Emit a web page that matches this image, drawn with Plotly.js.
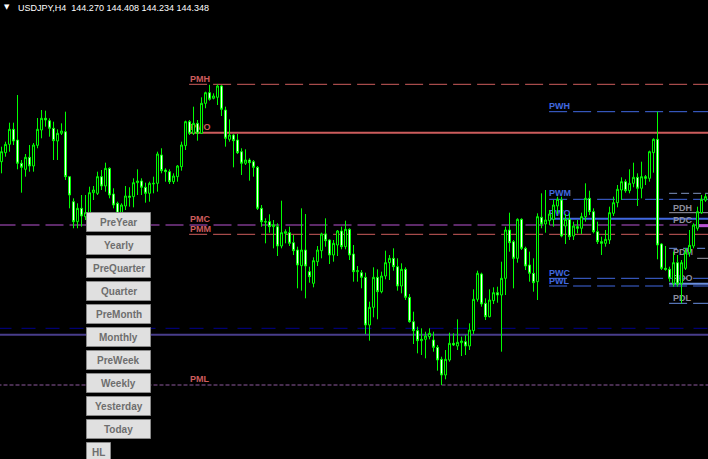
<!DOCTYPE html>
<html>
<head>
<meta charset="utf-8">
<script src="https://cdn.plot.ly/plotly-3.0.1.min.js"></script>
<style>html,body{margin:0;padding:0;background:#000;}#chart{width:708px;height:459px;}</style>
</head>
<body>
<div id="chart"></div>
<script>
// ---- data: USDJPY H4 candles ----
const symbol = 'USDJPY,H4';
const openP = [145.118,145.316,145.500,145.830,145.595,145.083,144.950,145.214,145.023,145.478,
145.815,146.072,146.020,145.852,145.573,145.742,145.778,144.788,144.238,143.798,
144.092,143.908,143.982,144.436,144.422,144.788,144.583,144.972,144.407,144.202,
143.982,144.143,144.363,144.348,144.656,144.693,144.555,144.422,144.627,144.642,
145.265,144.935,144.898,144.678,144.788,145.008,145.470,145.998,145.742,145.962,
145.742,146.402,146.636,146.512,146.534,146.783,146.255,145.610,145.705,145.595,
145.338,145.083,145.155,145.118,144.994,144.092,143.798,143.798,143.688,143.688,
143.263,143.542,143.556,143.336,143.175,142.830,143.175,142.698,142.442,142.918,
143.160,143.527,143.395,143.065,143.285,143.593,143.248,143.630,143.087,142.698,
142.676,142.574,141.525,141.914,142.574,142.258,142.603,142.896,142.992,142.808,
142.383,142.750,142.134,141.598,141.400,141.180,141.210,141.268,141.195,141.034,
140.770,140.425,140.755,141.122,141.063,141.136,141.158,141.063,141.400,142.090,
142.647,142.002,141.708,142.060,142.236,142.185,142.552,143.615,143.358,142.992,
143.850,143.212,142.845,142.662,142.478,143.894,143.747,143.820,143.850,144.143,
144.275,143.703,143.850,143.483,143.688,143.653,143.908,144.312,144.018,143.578,
143.358,143.322,143.395,143.982,144.216,144.495,144.678,144.480,144.642,144.774,
144.533,144.788,144.752,145.316,145.610,143.307,142.772,142.750,142.442,142.896,
142.442,142.772,143.116,143.263,143.653,143.996,144.270];
const highP = [145.448,145.558,145.976,145.976,146.585,145.155,145.287,145.485,145.529,146.079,
146.255,146.240,146.072,145.998,145.830,145.962,146.218,144.788,144.312,144.202,
144.385,144.385,144.568,144.583,144.898,144.935,145.096,144.994,144.533,144.238,
144.202,144.583,144.555,144.752,144.950,144.752,144.656,144.678,144.788,145.338,
145.413,144.972,144.950,144.862,145.045,145.558,146.020,146.035,146.328,146.035,
146.534,146.658,146.810,146.622,146.820,146.805,146.328,146.050,145.727,145.727,
145.413,145.390,145.192,145.155,145.023,144.165,143.872,143.960,143.835,143.762,
144.260,143.630,143.688,143.505,143.248,144.092,143.967,142.808,143.014,143.263,
143.556,143.872,143.410,143.395,143.615,143.688,143.820,143.653,143.285,142.823,
142.735,142.676,142.038,142.794,142.750,142.698,143.160,143.065,143.212,142.992,
142.882,142.794,142.207,141.818,141.488,141.452,141.378,141.452,141.378,141.085,
140.828,140.975,141.356,141.342,141.650,141.268,141.305,141.562,142.310,142.720,
142.676,142.112,142.310,142.354,142.368,142.918,143.688,143.996,143.395,143.872,
143.872,143.248,143.138,142.992,143.982,144.422,144.495,144.055,144.275,144.348,
144.348,143.967,143.982,143.798,143.835,143.996,144.642,144.480,144.092,143.798,
143.468,143.615,144.128,144.348,144.605,144.774,144.730,144.950,145.096,144.862,
145.118,144.825,145.360,145.632,146.218,143.322,143.263,142.808,143.138,143.065,
142.955,143.212,143.615,143.762,144.128,144.385,144.408];
const lowP = [144.862,145.228,145.338,145.485,144.950,144.436,144.788,144.898,144.898,145.413,
145.632,145.888,145.668,145.155,145.155,145.705,144.715,144.092,143.653,143.653,
143.688,143.835,143.945,144.275,144.385,144.495,144.458,144.312,144.092,143.908,
143.798,144.055,144.128,144.114,144.385,144.385,144.216,144.238,144.422,144.458,
144.862,144.678,144.627,144.627,144.678,144.920,145.375,145.705,145.705,145.580,
145.727,146.293,146.460,146.490,146.365,146.123,145.448,145.558,144.994,145.287,
144.825,145.045,144.700,144.788,144.055,143.688,143.322,143.556,143.212,143.043,
143.212,143.322,143.263,143.065,142.332,142.280,142.112,142.456,142.354,142.823,
142.992,143.248,142.867,142.918,143.043,143.190,143.190,142.955,142.478,142.478,
142.332,141.327,141.180,141.694,141.650,142.222,142.530,142.515,142.720,142.280,
142.222,142.075,141.576,141.107,140.902,140.865,140.792,141.210,140.938,140.520,
140.205,140.330,140.718,141.063,140.975,140.843,140.865,140.975,141.327,142.038,
141.928,141.635,141.694,141.987,142.016,140.938,142.185,143.138,142.332,142.896,
143.175,142.735,142.478,142.258,142.075,143.653,143.556,143.725,143.688,143.967,
143.454,143.307,143.395,143.395,143.542,143.527,143.798,143.945,143.542,143.307,
143.065,143.248,143.307,143.923,144.114,144.275,144.436,144.422,144.555,144.143,
144.312,144.605,144.678,144.876,142.970,142.735,142.720,142.478,142.368,142.368,
142.002,142.735,143.028,143.212,143.600,143.967,144.234];
const closeP = [145.338,145.500,145.830,145.573,145.083,144.994,145.214,145.023,145.485,145.830,
146.072,146.035,145.852,145.580,145.742,145.793,144.788,144.385,143.798,144.092,
143.923,143.996,144.436,144.495,144.788,144.583,144.972,144.385,144.165,143.982,
144.165,144.363,144.334,144.656,144.693,144.555,144.422,144.642,144.642,145.287,
144.920,144.898,144.678,144.803,145.023,145.485,145.998,145.742,145.962,145.742,
146.402,146.636,146.490,146.563,146.783,146.270,145.632,145.705,145.580,145.316,
145.083,145.155,145.096,144.994,144.092,143.798,143.791,143.688,143.725,143.263,
143.556,143.578,143.322,143.160,142.845,143.175,142.823,142.588,142.940,143.175,
143.527,143.380,143.065,143.322,143.593,143.248,143.630,143.065,142.698,142.720,
142.574,141.525,141.914,142.574,142.258,142.603,142.896,142.992,142.808,142.383,
142.750,142.134,141.598,141.400,141.180,141.210,141.283,141.342,141.034,140.755,
140.425,140.770,141.122,141.085,141.144,141.173,141.063,141.415,142.090,142.662,
141.987,141.708,142.075,142.236,142.185,142.552,143.615,143.336,142.992,143.850,
143.212,142.823,142.662,142.456,143.908,143.747,143.835,143.967,144.165,144.290,
143.483,143.850,143.468,143.703,143.653,143.908,144.312,144.018,143.578,143.358,
143.322,143.410,143.996,144.216,144.510,144.678,144.480,144.642,144.774,144.533,
144.788,144.752,145.338,145.610,143.285,142.772,142.750,142.552,142.896,142.427,
142.896,143.116,143.278,143.725,144.018,144.290,144.348];

// ---- horizontal level lines (price, first bar) ----
const levelName  = ['PMH','PMO','PurpleA','PMM','PurpleB','NavyDash','SlateSolid','PWH','PWM','PWO','PWC','PWL','DayDashA','PDH','PDC','DayDashB','PDM','PDO','PDL'];
const levelPrice = [146.820,145.756,143.725,143.520,140.205,141.452,141.312,146.218,144.290,143.864,142.552,142.383,144.422,143.996,143.710,143.212,142.992,142.434,142.002];
const levelStartBar = [46.9,46.9,-1,46.9,-1,-1,-1,136.9,136.9,136.9,136.9,136.9,166.9,166.9,173.9,166.9,173.9,166.9,166.9];

// ---- level labels ----
const labelText  = ['PMH','PMO','PMC','PMM','PML','PWH','PWM','PWO','PWC','PWL','PDH','PDC','PDM','PDO','PDL'];
const labelPrice = [146.970,145.903,143.879,143.659,140.359,146.376,144.451,144.011,142.691,142.515,144.132,143.857,143.153,142.581,142.141];
const labelBar   = [47.1,47.1,47.1,47.1,47.1,136.9,136.9,136.9,136.9,136.9,167.9,167.9,167.9,167.9,167.9];

// ---- buttons ----
const buttonLabels = ['PreYear','Yearly','PreQuarter','Quarter','PreMonth','Monthly','PreWeek','Weekly','Yesterday','Today','HL'];

// ---- styles ----
const RED = '#CD5C5C', BLUE = '#4169E1', PURPLE = '#BA55D3', GRAYLBL = '#8E8E9C', LBLUE = '#6A8FE0';
const levelStyle = {
  PMH:{c:RED,w:1,d:'18px,6px'}, PMO:{c:RED,w:2,d:'solid'}, PurpleA:{c:PURPLE,w:1,d:'18px,6px'},
  PMM:{c:RED,w:1,d:'18px,6px'}, PurpleB:{c:'#8E5A9E',w:1,d:'4px,2px'}, NavyDash:{c:'#00008C',w:1,d:'14px,10px'},
  SlateSolid:{c:'#483D8B',w:2,d:'solid'}, PWH:{c:BLUE,w:1,d:'18px,6px'}, PWM:{c:BLUE,w:1,d:'18px,6px'},
  PWO:{c:BLUE,w:2,d:'solid'}, PWC:{c:BLUE,w:1,d:'18px,6px'}, PWL:{c:BLUE,w:1,d:'18px,6px'},
  DayDashA:{c:'#7F93C0',w:1,d:'8px,4px'}, PDH:{c:'#9A9AA8',w:1,d:'solid'}, PDC:{c:PURPLE,w:3,d:'solid'},
  DayDashB:{c:LBLUE,w:1,d:'8px,6px'}, PDM:{c:'#9A9AA8',w:1,d:'solid'}, PDO:{c:LBLUE,w:2,d:'solid'},
  PDL:{c:LBLUE,w:1,d:'18px,6px'}
};
function labelColor(t){ return t.startsWith('PM') ? RED : (t.startsWith('PW') ? BLUE : GRAYLBL); }

const idx = openP.map((_, i) => i);
const W = 708, H = 459;

const shapes = [];
levelName.forEach((n, i) => {
  const s = levelStyle[n];
  shapes.push({type:'line', xref:'x', yref:'y', layer:'below',
    x0: levelStartBar[i], x1: 180, y0: levelPrice[i], y1: levelPrice[i],
    line:{color:s.c, width:s.w, dash:s.d}});
});
labelText.forEach((t, i) => {
  shapes.push({type:'line', xref:'x', yref:'y', layer:'below',
    x0: labelBar[i], x1: labelBar[i] + 0.5, y0: labelPrice[i], y1: labelPrice[i],
    line:{color:'rgba(0,0,0,0)', width:1},
    label:{text:'<b>' + t + '</b>', textposition:'start', xanchor:'left', yanchor:'middle', padding:0,
      font:{family:'Liberation Sans, Arial, sans-serif', size:9, color:labelColor(t), weight:'bold'}}});
});

const annotations = [];
buttonLabels.forEach((b, i) => {
  const top = 212.5 + 23 * i;
  const right = (b === 'HL') ? 110.5 : 150.5;
  shapes.push({type:'rect', xref:'paper', yref:'paper', layer:'above',
    x0: 86.5 / W, x1: right / W, y0: 1 - top / H, y1: 1 - (top + 19) / H,
    fillcolor:'#E0E0E0', line:{color:'#8A8A8A', width:1}});
  annotations.push({xref:'paper', yref:'paper', x: (86.5 + right) / 2 / W, y: 1 - (top + 10) / H,
    xanchor:'center', yanchor:'middle', showarrow:false, text:'<b>' + b + '</b>',
    font:{family:'Liberation Sans, Arial, sans-serif', size:10, color:'#6E6E6E'}});
});

const last = openP.length - 1;
annotations.push({xref:'paper', yref:'paper', x: 7 / W, y: 1 - 7 / H, xanchor:'center', yanchor:'middle',
  showarrow:false, text:'\u25BC', font:{family:'DejaVu Sans', size:7, color:'#FFFFFF'}});
annotations.push({xref:'paper', yref:'paper', x: 16 / W, y: 1 - 8 / H, xanchor:'left', yanchor:'middle',
  showarrow:false,
  text: symbol + '\u00a0\u00a0' + [openP[last], highP[last], lowP[last], closeP[last]].map(v => v.toFixed(3)).join(' '),
  font:{family:'Liberation Sans, Arial, sans-serif', size:9, color:'#FFFFFF'}});

const trace = {
  type:'candlestick', x: idx, open: openP, high: highP, low: lowP, close: closeP,
  increasing:{line:{color:'#00FF00', width:1}, fillcolor:'#000000'},
  decreasing:{line:{color:'#00FF00', width:1}, fillcolor:'#FFFFFF'},
  whiskerwidth:0, hoverinfo:'skip', showlegend:false
};

const layout = {
  width: W, height: H, margin:{l:0, r:0, t:0, b:0, pad:0},
  paper_bgcolor:'#000000', plot_bgcolor:'#000000', showlegend:false,
  boxgap:0.3, boxgroupgap:0.3,
  xaxis:{range:[-0.375, 176.625], visible:false, showgrid:false, zeroline:false, rangeslider:{visible:false}},
  yaxis:{range:[138.577, 148.675], visible:false, showgrid:false, zeroline:false},
  shapes: shapes, annotations: annotations
};

Plotly.newPlot('chart', [trace], layout, {staticPlot:true, displayModeBar:false});
</script>
</body>
</html>
